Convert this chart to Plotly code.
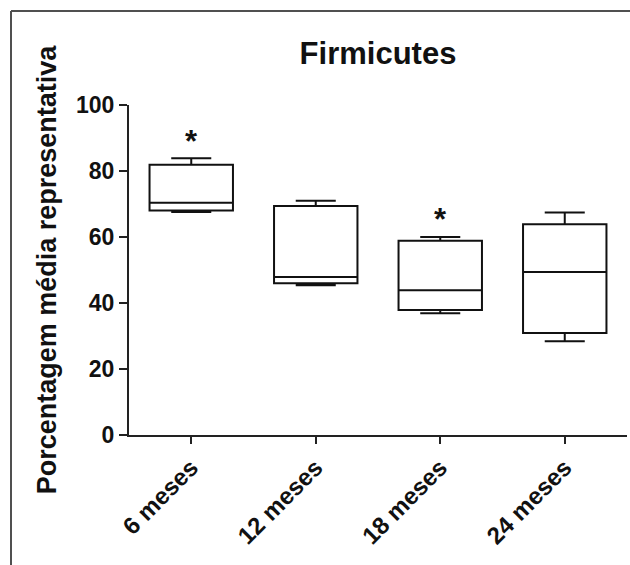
import plotly.graph_objects as go

categories = ["6 meses", "12 meses", "18 meses", "24 meses"]
lower_whisker = [67.6, 45.4, 36.9, 28.4]
q1_values = [68.0, 46.0, 37.9, 30.9]
median_values = [70.4, 47.9, 43.9, 49.4]
q3_values = [81.9, 69.4, 58.9, 63.9]
upper_whisker = [83.9, 71.0, 60.0, 67.4]
star_categories = ["6 meses", "18 meses"]
star_y = [90.9, 67.2]

W, H = 630, 565
L, R, T, B = 129, 3, 105, 130
pw, ph = W - L - R, H - T - B

def px_to_paper_x(px):
    return (px - L) / pw

def px_to_paper_y(py):
    return (H - B - py) / ph

fig = go.Figure()
fig.add_trace(go.Box(
    x=categories,
    q1=q1_values,
    median=median_values,
    q3=q3_values,
    lowerfence=lower_whisker,
    upperfence=upper_whisker,
    fillcolor="white",
    line=dict(color="#111111", width=2),
    whiskerwidth=0.48,
    boxpoints=False,
    showlegend=False,
    hoverinfo="skip",
))

for c, yv in zip(star_categories, star_y):
    fig.add_annotation(
        x=c, y=yv, text="*", showarrow=False,
        font=dict(family="Arial", size=31, color="#111111", weight="bold"),
        xanchor="center", yanchor="middle", yshift=-6,
    )

# outer frame (top and left edges)
border = dict(color="#505050", width=2)
fig.add_shape(type="line", xref="paper", yref="paper",
              x0=px_to_paper_x(11), x1=px_to_paper_x(632),
              y0=px_to_paper_y(11), y1=px_to_paper_y(11), line=border)
fig.add_shape(type="line", xref="paper", yref="paper",
              x0=px_to_paper_x(11), x1=px_to_paper_x(11),
              y0=px_to_paper_y(11), y1=px_to_paper_y(567), line=border)

fig.update_layout(
    width=W, height=H,
    margin=dict(l=L, r=R, t=T, b=B),
    paper_bgcolor="white", plot_bgcolor="white",
    boxgap=0.33, boxgroupgap=0,
    title=dict(text="Firmicutes", x=0.5, xref="paper", xanchor="center",
               y=1 - 53 / H, yref="container", yanchor="middle",
               font=dict(family="Arial", size=31, color="#111111", weight="bold")),
    xaxis=dict(
        range=[-0.5, 3.5], showline=True, linecolor="#222222", linewidth=2,
        ticks="outside", ticklen=7, tickwidth=2, tickcolor="#222222",
        tickangle=-45, showgrid=False, zeroline=False,
        tickfont=dict(family="Arial", size=24, color="#111111", weight="bold"),
    ),
    yaxis=dict(
        range=[0, 100], tickvals=[0, 20, 40, 60, 80, 100],
        showline=True, linecolor="#222222", linewidth=2,
        ticks="outside", ticklen=8, tickwidth=2, tickcolor="#222222",
        showgrid=False, zeroline=False,
        tickfont=dict(family="Arial", size=23, color="#111111", weight="bold"),
        title=dict(text="Porcentagem média representativa", standoff=12,
                   font=dict(family="Arial", size=27, color="#111111", weight="bold")),
    ),
)

fig.write_html("out.html")
